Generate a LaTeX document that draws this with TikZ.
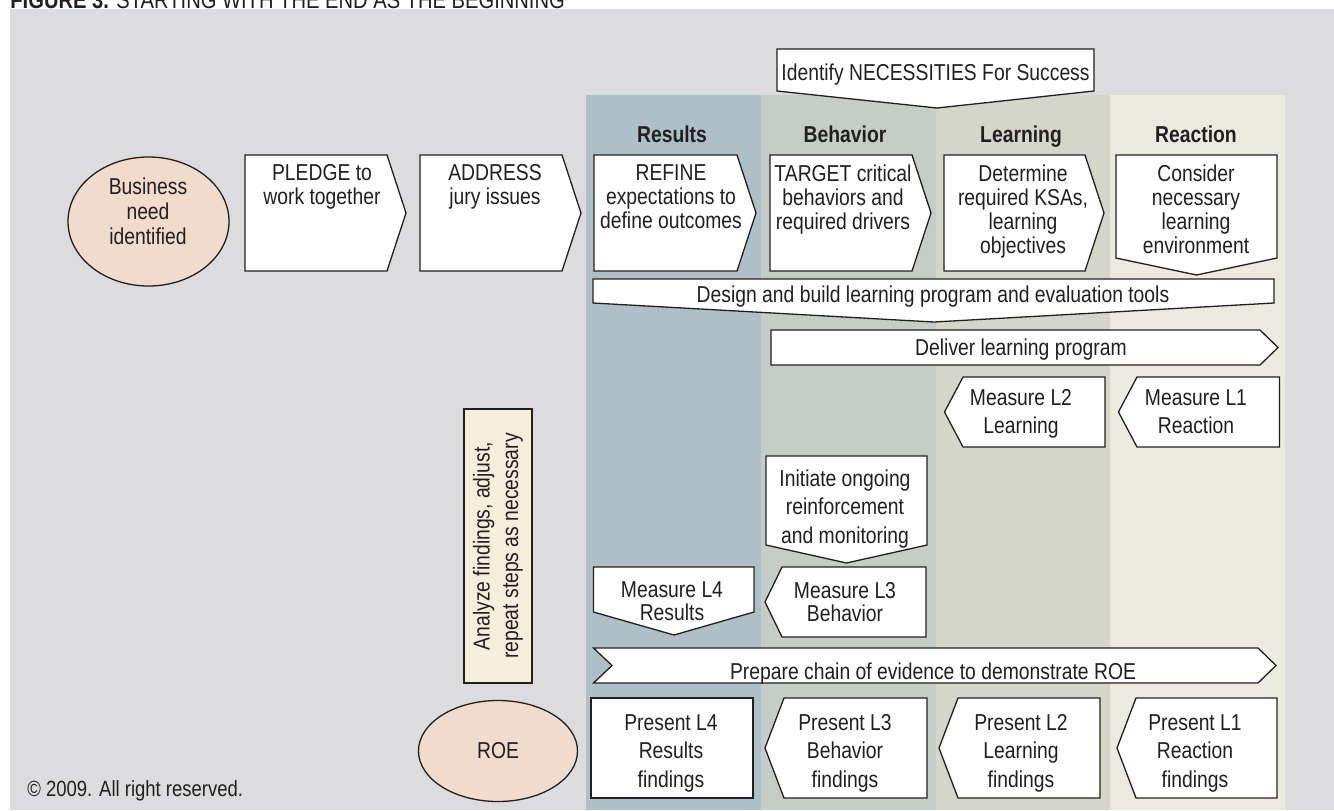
\documentclass[tikz,border=0pt]{standalone}
\usepackage{fontspec}
\setmainfont{Liberation Sans}[FakeStretch=0.84]
\usepackage{tikz}
\usepackage{xcolor}
\usetikzlibrary{shapes.geometric}

\definecolor{ink}{HTML}{231F20}
\definecolor{bggray}{HTML}{DCDCDE}
\definecolor{colres}{HTML}{AEBFC7}
\definecolor{colbeh}{HTML}{C5CDC6}
\definecolor{collrn}{HTML}{D5D6CA}
\definecolor{colrea}{HTML}{ECE9DF}
\definecolor{ovalpink}{HTML}{F1DBCD}
\definecolor{notefill}{HTML}{F6EEDD}

\tikzset{
  stepbox/.style={draw=ink, fill=white, line width=0.65pt, line join=miter},
  blob/.style={ellipse, draw=ink, fill=ovalpink, line width=0.65pt, inner sep=0pt,
    text=ink, font=\fontsize{11.5}{12}\selectfont},
  lbl/.style={align=center, inner sep=0pt, text=ink, font=\fontsize{11.5}{12}\selectfont},
  lblwide/.style={lbl, font=\fontsize{11.5}{14.25}\selectfont},
  colhead/.style={lbl, font=\fontsize{11.5}{12}\selectfont\bfseries}
}

\begin{document}
\begin{tikzpicture}[x=0.5pt, y=-0.5pt]
    \useasboundingbox (0,0) rectangle (1334,810);
    \clip (0,0) rectangle (1334,810);

    % Title
    \node[lbl, anchor=base west, font=\fontsize{12}{14}\selectfont] (title) at (10,8.5)
        {\textbf{FIGURE 3.} STARTING WITH THE END AS THE BEGINNING};

    % Panel and level columns
    \fill[bggray] (10,9) rectangle (1334,810);
    \fill[colres] (586,95) rectangle (761,810);
    \fill[colbeh] (761,95) rectangle (936,810);
    \fill[collrn] (936,95) rectangle (1110,810);
    \fill[colrea] (1110,95) rectangle (1285,810);
    \node[colhead, anchor=base] (hres) at (672,142) {Results};
    \node[colhead, anchor=base] (hbeh) at (845,142) {Behavior};
    \node[colhead, anchor=base] (hlrn) at (1021,142) {Learning};
    \node[colhead, anchor=base] (hrea) at (1196,142) {Reaction};

    % Necessities
    \draw[stepbox] (777,49) -- (1094,49) -- (1094,91) -- (937,108) -- (777,91) -- cycle;
    \node[lbl, anchor=base] (identify) at (935.5,80) {Identify NECESSITIES For Success};

    % Business need
    \node[blob, minimum width=80.5pt, minimum height=64.5pt] (bizneed) at (148.5,221.5) {};
    \node[lbl, anchor=north, font=\fontsize{11.5}{12.5}\selectfont] (biztext) at (148,177)
        {Business\\need\\identified};

    % Planning steps
    \draw[stepbox] (245,155) -- (387,155) -- (406,213) -- (387,271) -- (245,271) -- cycle;
    \node[lbl, anchor=north] (pledge) at (322,164.5) {PLEDGE to\\work together};
    \draw[stepbox] (420,155) -- (562,155) -- (581,213) -- (562,271) -- (420,271) -- cycle;
    \node[lbl, anchor=north] (address) at (495,164.5) {ADDRESS\\jury issues};
    \draw[stepbox] (594,155) -- (737,155) -- (756,213) -- (737,271) -- (594,271) -- cycle;
    \node[lbl, anchor=north] (refine) at (671,164) {REFINE\\expectations to\\define outcomes};
    \draw[stepbox] (770,155) -- (912,155) -- (931,213) -- (912,271) -- (770,271) -- cycle;
    \node[lbl, anchor=north] (target) at (843,164) {TARGET critical\\behaviors and\\required drivers};
    \draw[stepbox] (944,155) -- (1085,155) -- (1104,213) -- (1085,271) -- (944,271) -- cycle;
    \node[lbl, anchor=north] (ksas) at (1023,164) {Determine\\required KSAs,\\learning\\objectives};
    \draw[stepbox] (1116,155) -- (1277,155) -- (1277,258) -- (1196.5,275) -- (1116,258) -- cycle;
    \node[lbl, anchor=north] (environ) at (1196,164) {Consider\\necessary\\learning\\environment};

    % Build and deliver
    \draw[stepbox] (593,279) -- (1274,279) -- (1274,303) -- (934,322) -- (593,303) -- cycle;
    \node[lbl, anchor=base] (design) at (933,302) {Design and build learning program and evaluation tools};
    \draw[stepbox] (771,330) -- (1260,330) -- (1278,347.5) -- (1260,365) -- (771,365) -- cycle;
    \node[lbl, anchor=base] (deliver) at (1021,355) {Deliver learning program};

    % Measure L2 and L1
    \draw[stepbox] (944.5,412) -- (963,377) -- (1105,377) -- (1105,447) -- (963,447) -- cycle;
    \node[lblwide, anchor=north] (measure2) at (1021,389) {Measure L2\\Learning};
    \draw[stepbox] (1118.5,412) -- (1137,377) -- (1279.5,377) -- (1279.5,447) -- (1137,447) -- cycle;
    \node[lblwide, anchor=north] (measure1) at (1196,389) {Measure L1\\Reaction};

    % Reinforcement
    \draw[stepbox] (766,456) -- (927,456) -- (927,545) -- (846.5,563) -- (766,545) -- cycle;
    \node[lblwide, anchor=north] (reinforce) at (845,469) {Initiate ongoing\\reinforcement\\and monitoring};

    % Measure L4 and L3
    \draw[stepbox] (593.5,567) -- (754,567) -- (754,612) -- (674,635) -- (593.5,612) -- cycle;
    \node[lbl, anchor=north, font=\fontsize{11.5}{11.5}\selectfont] (measure4) at (672,581) {Measure L4\\Results};
    \draw[stepbox] (765,602) -- (782,567) -- (926,567) -- (926,637) -- (782,637) -- cycle;
    \node[lbl, anchor=north, font=\fontsize{11.5}{11.5}\selectfont] (measure3) at (845,582) {Measure L3\\Behavior};

    % Analyze
    \draw[draw=ink, fill=notefill, line width=0.65pt] (464,409) rectangle (532,683);
    \node[lblwide, rotate=90] (analyze) at (498,546) {Analyze findings, adjust,\\repeat steps as necessary};

    % Chain of evidence
    \draw[stepbox] (593.5,648) -- (1258,648) -- (1276,665.5) -- (1258,683) -- (593.5,683) -- (612,665.5) -- cycle;
    \node[lbl, anchor=base] (chain) at (933,679) {Prepare chain of evidence to demonstrate ROE};

    % Present findings
    \draw[stepbox] (591,698) rectangle (753,798);
    \node[lblwide, anchor=north] (present4) at (671,714) {Present L4\\Results\\findings};
    \draw[stepbox] (765,748) -- (784,698) -- (927,698) -- (927,798) -- (784,798) -- cycle;
    \node[lblwide, anchor=north] (present3) at (845,714) {Present L3\\Behavior\\findings};
    \draw[stepbox] (939,748) -- (958,698) -- (1100,698) -- (1100,798) -- (958,798) -- cycle;
    \node[lblwide, anchor=north] (present2) at (1021,714) {Present L2\\Learning\\findings};
    \draw[stepbox] (1117,748) -- (1136,698) -- (1277,698) -- (1277,798) -- (1136,798) -- cycle;
    \node[lblwide, anchor=north] (present1) at (1195,714) {Present L1\\Reaction\\findings};

    % ROE
    \node[blob, minimum width=79.5pt, minimum height=50.5pt] (roe) at (498,751) {ROE};

    % Copyright
    \node[lbl, anchor=base west, font=\fontsize{11}{12}\selectfont] (copyright) at (27,796.5) {© 2009. All right reserved.};
\end{tikzpicture}
\end{document}
